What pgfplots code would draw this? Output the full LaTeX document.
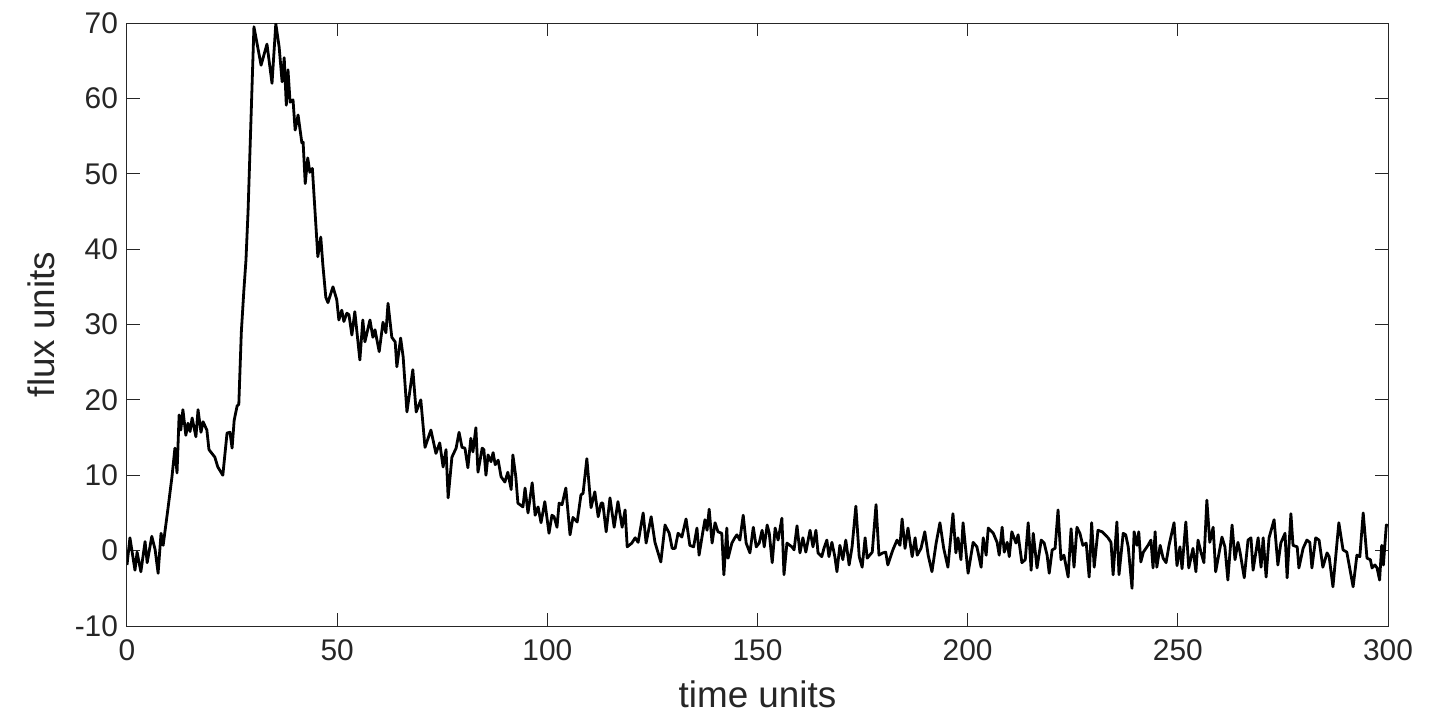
\documentclass[border=0pt]{standalone}
\usepackage{pgfplots}
\pgfplotsset{compat=1.18}
\usepackage{fontspec}
\setmainfont{Liberation Sans}
\definecolor{axgray}{HTML}{262626}
\begin{document}
\begin{tikzpicture}[x=1bp,y=1bp]
\begin{axis}[name=ax, at={(0,0)}, anchor=south west,
  scale only axis, width=630.5bp, height=301.5bp,
  xmin=0, xmax=300, ymin=-10, ymax=70,
  xtick={0,50,...,300}, ytick={-10,0,...,70},
  tick align=inside, major tick length=6.5bp,
  axis line style={axgray, line width=0.5bp},
  every tick/.style={axgray, line width=0.5bp},
  tick label style={font=\fontsize{15}{18}\selectfont, text=axgray},
  /pgf/number format/assume math mode=true,
  xticklabel style={yshift=-3.5bp},
  yticklabel style={xshift=-1bp},
  xlabel={time units}, ylabel={flux units},
  label style={font=\fontsize{18.5}{22}\selectfont, text=axgray},
  xlabel style={yshift=-3bp},
  ylabel style={yshift=3bp},
  clip=true]
\addplot[black, line width=1.4bp, line join=round] coordinates {
(0,-1.9)(0.7,1.7)(1.9,-2.6)(2.4,-0.2)(3.3,-2.8)(4.3,1.2)(4.8,-1.6)(5.9,1.9)(6.7,0.1)(7.4,-3.0)
(8.1,2.3)(8.6,0.7)(9.8,5.8)(10.7,9.8)(11.4,13.6)(11.9,10.3)(12.4,18.0)(12.8,16.0)(13.3,18.7)(14.0,15.3)
(14.5,16.9)(15.0,15.8)(15.5,17.6)(16.4,15.1)(16.9,18.7)(17.6,15.7)(18.1,17.1)(19.0,16.0)(19.5,13.4)(20.9,12.4)
(21.6,11.1)(22.8,10.0)(23.8,15.6)(24.5,15.7)(25.0,13.6)(25.5,17.3)(26.2,19.2)(26.6,19.4)(27.2,29.0)(27.8,34.5)
(28.3,38.5)(28.8,45.0)(30.2,69.5)(31.9,64.4)(33.3,67.2)(34.5,62.0)(35.4,69.9)(36.2,66.8)(36.9,62.2)(37.4,65.4)
(37.9,59.1)(38.3,63.8)(38.8,59.5)(39.5,59.8)(40.0,55.8)(40.7,57.8)(41.6,54.1)(41.9,54.2)(42.4,48.7)(43.0,52.1)
(43.5,50.2)(44.1,50.7)(45.4,39.0)(46.1,41.6)(46.6,37.9)(47.3,33.6)(47.8,32.9)(49.0,35.0)(49.9,33.3)(50.4,30.6)
(51.1,31.9)(51.6,30.4)(52.3,31.5)(52.8,31.3)(53.5,28.6)(54.2,31.7)(55.4,25.3)(56.1,30.6)(56.6,27.7)(57.8,30.6)
(58.5,28.3)(59.0,29.3)(60.0,26.4)(60.9,30.3)(61.6,28.9)(62.1,32.8)(63.0,28.3)(63.8,27.7)(64.2,24.4)(65.1,28.2)
(65.7,25.7)(66.6,18.4)(68.0,24.0)(68.8,18.4)(69.9,20.0)(70.9,13.7)(72.3,16.0)(73.5,12.9)(74.4,14.3)(75.2,11.1)
(75.9,13.4)(76.4,7.0)(77.3,12.4)(78.3,13.6)(79.0,15.7)(79.7,13.7)(80.4,13.6)(81.1,11.0)(81.8,14.9)(82.3,13.1)
(83.0,16.3)(83.5,10.4)(84.5,13.6)(84.9,13.4)(85.4,10.0)(85.9,12.7)(86.6,11.8)(87.1,13.0)(87.6,11.4)(88.3,12.0)
(89.0,9.8)(89.9,9.1)(90.6,10.4)(91.4,8.1)(91.8,12.7)(92.5,9.8)(93.0,6.3)(94.2,5.8)(94.7,8.3)(95.4,5.0)
(96.4,9.0)(97.1,4.7)(97.8,5.8)(98.5,3.7)(99.4,6.5)(100.4,2.3)(101.1,4.7)(101.6,4.5)(102.3,3.1)(102.8,6.3)
(103.5,6.1)(104.4,8.3)(105.4,2.1)(106.1,4.4)(107.1,3.8)(108.0,7.4)(108.5,7.6)(109.4,12.2)(110.4,5.7)(111.3,7.8)
(112.1,4.5)(112.8,6.3)(113.2,6.3)(114.0,2.5)(114.9,7.0)(115.9,3.1)(116.8,6.5)(117.8,3.1)(118.5,5.4)(119.0,0.5)
(120.1,1.0)(120.9,1.7)(121.6,1.1)(122.8,5.0)(123.5,1.0)(124.7,4.5)(125.6,1.1)(127.0,-1.5)(128.0,3.4)(129.0,2.3)
(129.7,0.3)(130.4,0.3)(131.1,2.3)(132.0,1.8)(133.0,4.2)(133.9,0.7)(134.8,0.5)(135.6,3.0)(136.1,-0.6)(137.0,2.5)
(137.5,4.1)(138.0,2.7)(138.5,5.5)(139.2,1.0)(139.9,3.7)(140.6,2.5)(141.5,2.3)(142.0,-3.2)(142.7,3.0)(143.0,-1.0)
(143.9,1.0)(144.6,1.7)(145.1,2.1)(145.8,1.4)(146.6,4.7)(147.3,1.0)(148.2,-0.3)(149.0,3.1)(149.7,0.5)(150.4,1.0)
(151.1,2.7)(151.6,0.5)(152.3,3.4)(152.8,2.3)(153.5,-1.6)(154.2,3.0)(154.9,1.4)(155.8,4.3)(156.3,-3.2)(157.0,1.0)
(158.2,0.5)(158.7,0.1)(159.4,3.3)(160.1,-0.3)(160.8,1.7)(161.5,-0.2)(162.5,2.7)(163.2,0.5)(163.9,2.7)(164.4,-0.3)
(165.3,-0.8)(165.8,0.3)(166.5,1.4)(167.0,-0.8)(167.7,1.1)(168.4,-0.8)(168.9,-2.8)(169.6,0.7)(170.3,-1.2)(171.0,1.4)
(171.8,-1.9)(172.5,0.5)(173.4,5.9)(174.2,-0.8)(174.9,-2.2)(175.6,1.7)(176.1,-1.0)(177.3,-0.2)(178.2,6.1)(178.9,-0.6)
(179.8,-0.3)(180.5,-0.2)(181.0,-1.9)(182.2,0.1)(183.2,1.4)(183.9,0.7)(184.4,4.2)(185.1,0.3)(185.8,3.0)(186.8,-0.8)
(187.5,1.7)(188.0,-0.6)(188.9,0.3)(189.8,2.5)(190.6,-0.6)(191.5,-2.8)(192.5,1.0)(193.4,3.7)(194.3,0.3)(195.3,-2.2)
(196.5,4.9)(197.2,-0.3)(197.7,1.7)(198.4,-1.2)(198.9,3.7)(200.1,-3.0)(201.3,1.1)(202.2,0.5)(203.2,-2.2)(203.7,1.7)
(204.4,-0.6)(204.9,3.0)(206.1,2.3)(207.0,1.1)(207.5,-0.6)(208.2,3.1)(208.7,-0.2)(209.4,1.1)(209.9,-0.8)(210.5,2.5)
(211.5,1.0)(212.0,2.1)(212.9,-1.6)(213.7,-1.2)(214.4,3.7)(215.1,-2.6)(215.6,2.3)(216.5,-2.3)(217.5,1.4)(218.2,1.0)
(218.9,-0.6)(219.4,-3.0)(220.1,0.1)(220.8,0.3)(221.5,5.4)(222.2,-1.2)(222.9,-0.6)(223.9,-3.5)(224.6,2.9)(225.3,-2.2)
(226.0,3.1)(226.7,2.3)(227.4,0.7)(228.2,1.0)(228.9,-3.5)(229.5,3.7)(230.1,-2.2)(231.0,2.7)(232.0,2.5)(232.7,2.1)
(233.4,1.7)(234.1,1.1)(234.6,-3.2)(235.5,3.8)(236.0,-3.2)(237.0,2.3)(237.6,2.1)(238.2,0.5)(239.1,-5.0)(239.6,2.5)
(240.3,0.7)(240.7,2.5)(241.2,-1.5)(241.8,-0.2)(242.9,0.7)(243.6,1.4)(244.1,-2.3)(244.6,2.5)(245.0,-2.2)(245.8,0.7)
(246.5,-1.0)(247.2,-1.6)(247.9,0.7)(249.1,3.7)(249.8,-2.0)(250.5,0.5)(251.0,-2.4)(251.9,3.8)(252.6,-2.3)(253.6,0.3)
(254.3,-2.8)(254.8,1.4)(255.5,-0.2)(256.2,-1.6)(256.9,6.7)(257.6,1.1)(258.4,3.1)(259.0,-2.8)(260.5,1.8)(261.2,0.5)
(261.9,-3.9)(262.9,3.4)(263.6,-1.2)(264.3,1.1)(264.8,-0.2)(265.8,-3.6)(266.7,1.4)(267.4,1.7)(267.9,-2.6)(269.1,1.7)
(269.8,-2.2)(270.3,1.7)(271.0,-3.5)(271.7,1.7)(272.9,4.1)(273.8,-1.9)(274.5,1.0)(275.5,2.3)(276.0,-3.6)(276.9,4.9)
(277.4,0.7)(278.4,0.5)(278.8,-2.3)(279.8,0.3)(280.7,1.4)(281.4,1.1)(281.9,-2.3)(282.8,1.7)(283.6,1.4)(284.5,-2.2)
(285.5,-0.3)(286.0,-0.8)(286.9,-4.8)(288.3,3.7)(289.3,0.1)(290.2,-0.2)(291.7,-4.8)(292.6,-0.6)(293.3,-0.8)(294.1,5.0)
(295.0,-1.0)(295.8,-1.2)(296.2,-2.3)(296.9,-1.9)(297.4,-2.3)(298.0,-3.9)(298.5,0.7)(298.9,-1.9)(299.6,3.4)(300,3.3)
};
\end{axis}
\pgfresetboundingbox
\path[use as bounding box] (-63.5bp,-45.5bp) rectangle (656.5bp,313bp);
\end{tikzpicture}
\end{document}
